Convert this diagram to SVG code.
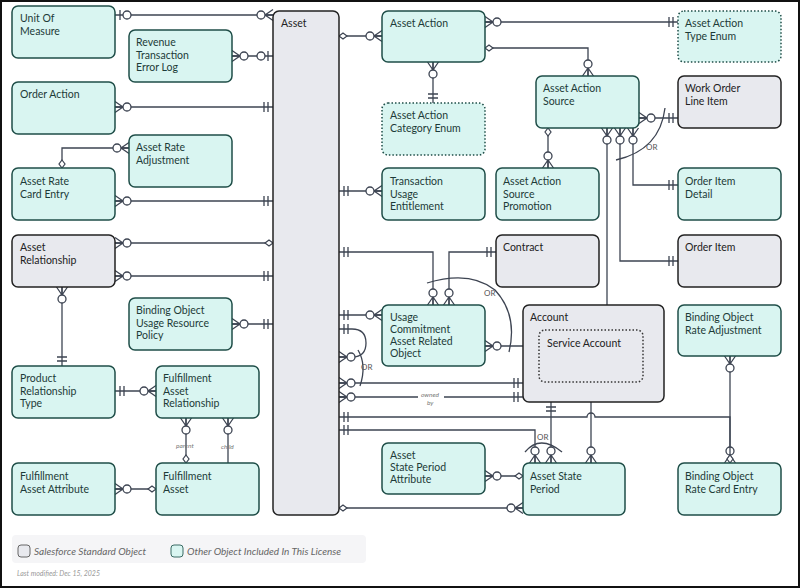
<svg xmlns="http://www.w3.org/2000/svg" width="800" height="588" viewBox="0 0 800 588">
<style>
.t{fill:#d9f5f1;stroke:#1f4e48;stroke-width:1.5}
.g{fill:#e8e9ee;stroke:#222;stroke-width:1.5}
.d{fill:#d9f5f1;stroke:#1f4e48;stroke-width:1.5;stroke-dasharray:1.5 2}
.ds{fill:#e8e9ee;stroke:#333;stroke-width:1.5;stroke-dasharray:1.5 2}
text{font-family:Lato,"Liberation Sans",sans-serif;font-size:10.5px;fill:#1d3b38}
.gt{fill:#222}
.c path{fill:none;stroke:#3d4452;stroke-width:1.3}
.sm{font-size:6.5px;fill:#777;font-style:italic}
.or{font-size:8px;fill:#555}
</style>
<defs>
<marker id="m0" viewBox="-20 -8 22 16" refX="0" refY="0" markerWidth="22" markerHeight="16" markerUnits="userSpaceOnUse" orient="auto-start-reverse"><path d="M-8,0L0,-5.5M-8,0L0,5.5M-8,0L0,0" fill="none" stroke="#3d4452" stroke-width="1.3"/><circle cx="-12" cy="0" r="4" fill="#fff" stroke="#3d4452" stroke-width="1.3"/></marker>
<marker id="m1" viewBox="-20 -8 22 16" refX="0" refY="0" markerWidth="22" markerHeight="16" markerUnits="userSpaceOnUse" orient="auto-start-reverse"><path d="M-5,-5V5M-9,-5V5" fill="none" stroke="#3d4452" stroke-width="1.3"/></marker>
<marker id="mz" viewBox="-20 -8 22 16" refX="0" refY="0" markerWidth="22" markerHeight="16" markerUnits="userSpaceOnUse" orient="auto-start-reverse"><path d="M-5,-5V5" fill="none" stroke="#3d4452" stroke-width="1.3"/><circle cx="-12" cy="0" r="4" fill="#fff" stroke="#3d4452" stroke-width="1.3"/></marker>
<marker id="md" viewBox="-20 -8 22 16" refX="0" refY="0" markerWidth="22" markerHeight="16" markerUnits="userSpaceOnUse" orient="auto-start-reverse"><polygon points="-8,0 -4,-3 0,0 -4,3" fill="#fff" stroke="#3d4452" stroke-width="1.2"/></marker>
</defs>
<rect x="1" y="1" width="798" height="586" fill="#fff" stroke="#111" stroke-width="2"/>

<g class="c" id="connectors">
<path d="M115,15H273" marker-start="url(#mz)" marker-end="url(#m0)"/>
<path d="M232,56H273" marker-start="url(#m0)" marker-end="url(#mz)"/>
<path d="M115,107H273" marker-start="url(#m0)" marker-end="url(#m1)"/>
<path d="M129,148H62V168" marker-start="url(#m0)" marker-end="url(#md)"/>
<path d="M115,201H273" marker-start="url(#m0)" marker-end="url(#m1)"/>
<path d="M115,243H273" marker-start="url(#m0)" marker-end="url(#md)"/>
<path d="M115,276H273" marker-start="url(#m0)" marker-end="url(#m1)"/>
<path d="M62,287V366" marker-start="url(#m0)" marker-end="url(#m1)"/>
<path d="M232,324H273" marker-start="url(#m0)" marker-end="url(#m1)"/>
<path d="M115,391H156" marker-start="url(#m1)" marker-end="url(#m0)"/>
<path d="M186,418V463" marker-start="url(#m0)" marker-end="url(#md)"/>
<path d="M228,418V463" marker-start="url(#m0)"/>
<path d="M115,489H156" marker-start="url(#m0)" marker-end="url(#md)"/>
<path d="M339,36H382" marker-start="url(#md)" marker-end="url(#m0)"/>
<path d="M485,22H678" marker-start="url(#m0)" marker-end="url(#m1)"/>
<path d="M433,62V103" marker-start="url(#m0)" marker-end="url(#m1)"/>
<path d="M485,48H588V76" marker-start="url(#md)" marker-end="url(#m0)"/>
<path d="M339,191H382" marker-start="url(#m1)" marker-end="url(#m0)"/>
<path d="M339,252H433V305" marker-start="url(#m1)" marker-end="url(#m0)"/>
<path d="M496,252H449V305" marker-start="url(#m1)" marker-end="url(#m0)"/>
<path d="M339,315H382" marker-start="url(#m1)" marker-end="url(#m0)"/>
<path d="M485,346H539" marker-start="url(#m0)" marker-end="url(#m1)"/>
<path d="M339,329H352Q366,329 366,343Q366,357 352,357H339" marker-start="url(#m1)" marker-end="url(#m0)"/>
<path d="M339,383H523" marker-start="url(#m0)" marker-end="url(#m1)"/>
<path d="M339,397H418M444,397H523" marker-end="url(#m1)"/>
<path d="M339,397H345" marker-start="url(#m0)"/>
<path d="M339,417H587A4,4 0 0 1 595,417H730V463" marker-start="url(#m1)" marker-end="url(#m0)"/>
<path d="M339,430H535V463" marker-start="url(#m1)" marker-end="url(#m0)"/>
<path d="M551,402V463" marker-start="url(#m1)" marker-end="url(#m0)"/>
<path d="M591,382V463" marker-start="url(#m1)" marker-end="url(#m0)"/>
<path d="M485,476H523" marker-start="url(#m0)" marker-end="url(#md)"/>
<path d="M339,508H523" marker-start="url(#md)" marker-end="url(#m0)"/>
<path d="M730,356V463" marker-start="url(#m0)" marker-end="url(#md)"/>
<path d="M548,128V168" marker-start="url(#md)" marker-end="url(#m0)"/>
<path d="M639,118H678" marker-start="url(#m0)" marker-end="url(#m1)"/>
<path d="M633,128V185H678" marker-start="url(#m0)" marker-end="url(#m1)"/>
<path d="M620,128V261H678" marker-start="url(#m0)" marker-end="url(#m1)"/>
<path d="M607,128V330" marker-start="url(#m0)" marker-end="url(#m1)"/>
<path d="M427,283Q470,270 495,290Q518,315 509,352"/>
<path d="M358,350Q367,365 360,386"/>
<path d="M616,160Q660,150 665,108"/>
<path d="M525,452Q540,434 562,452"/>
</g>
<text class="or" x="484" y="296">OR</text>
<text class="or" x="361" y="370">OR</text>
<text class="or" x="646" y="150">OR</text>
<text class="or" x="537" y="440">OR</text>
<text class="sm" x="421" y="397">owned</text>
<text class="sm" x="427" y="405">by</text>
<text class="sm" x="176" y="448">parent</text>
<text class="sm" x="221" y="449">child</text>

<g id="uom"><rect class="t" x="12" y="6" width="103" height="52" rx="6"/><text x="20" y="22">Unit Of</text><text x="20" y="34.5">Measure</text></g>
<g id="rtel"><rect class="t" x="129" y="30" width="103" height="52" rx="6"/><text x="136" y="46">Revenue</text><text x="136" y="58.5">Transaction</text><text x="136" y="71">Error Log</text></g>
<g id="oa"><rect class="t" x="12" y="82" width="103" height="52" rx="6"/><text x="20" y="98">Order Action</text></g>
<g id="ara"><rect class="t" x="129" y="135" width="103" height="52" rx="6"/><text x="136" y="151">Asset Rate</text><text x="136" y="163.5">Adjustment</text></g>
<g id="arce"><rect class="t" x="12" y="168" width="103" height="52" rx="6"/><text x="20" y="185">Asset Rate</text><text x="20" y="197.5">Card Entry</text></g>
<g id="ar"><rect class="g" x="12" y="235" width="103" height="52" rx="6"/><text class="gt" x="20" y="251">Asset</text><text class="gt" x="20" y="263.5">Relationship</text></g>
<g id="bourp"><rect class="t" x="129" y="298" width="103" height="52" rx="6"/><text x="136" y="314">Binding Object</text><text x="136" y="326.5">Usage Resource</text><text x="136" y="339">Policy</text></g>
<g id="prt"><rect class="t" x="12" y="366" width="103" height="52" rx="6"/><text x="20" y="382">Product</text><text x="20" y="394.5">Relationship</text><text x="20" y="407">Type</text></g>
<g id="far"><rect class="t" x="156" y="366" width="103" height="52" rx="6"/><text x="163" y="382">Fulfillment</text><text x="163" y="394.5">Asset</text><text x="163" y="407">Relationship</text></g>
<g id="faa"><rect class="t" x="12" y="463" width="103" height="52" rx="6"/><text x="20" y="480">Fulfillment</text><text x="20" y="492.5">Asset Attribute</text></g>
<g id="fa"><rect class="t" x="156" y="463" width="103" height="52" rx="6"/><text x="163" y="480">Fulfillment</text><text x="163" y="492.5">Asset</text></g>
<g id="asset"><rect class="g" x="273" y="11" width="66" height="504" rx="6"/><text class="gt" x="281" y="27">Asset</text></g>
<g id="aa"><rect class="t" x="382" y="11" width="103" height="51" rx="6"/><text x="390" y="27">Asset Action</text></g>
<g id="aate"><rect class="d" x="678" y="11" width="103" height="51" rx="6"/><text x="685" y="27">Asset Action</text><text x="685" y="39.5">Type Enum</text></g>
<g id="aace"><rect class="d" x="382" y="103" width="103" height="52" rx="6"/><text x="390" y="119">Asset Action</text><text x="390" y="131.5">Category Enum</text></g>
<g id="aas"><rect class="t" x="536" y="76" width="103" height="52" rx="6"/><text x="543" y="92">Asset Action</text><text x="543" y="104.5">Source</text></g>
<g id="woli"><rect class="g" x="678" y="76" width="103" height="52" rx="6"/><text class="gt" x="685" y="92">Work Order</text><text class="gt" x="685" y="104.5">Line Item</text></g>
<g id="tue"><rect class="t" x="382" y="168" width="103" height="52" rx="6"/><text x="390" y="185">Transaction</text><text x="390" y="197.5">Usage</text><text x="390" y="210">Entitlement</text></g>
<g id="aasp"><rect class="t" x="496" y="168" width="103" height="52" rx="6"/><text x="503" y="185">Asset Action</text><text x="503" y="197.5">Source</text><text x="503" y="210">Promotion</text></g>
<g id="oid"><rect class="t" x="678" y="168" width="103" height="52" rx="6"/><text x="685" y="185">Order Item</text><text x="685" y="197.5">Detail</text></g>
<g id="contract"><rect class="g" x="496" y="235" width="103" height="52" rx="6"/><text class="gt" x="503" y="251">Contract</text></g>
<g id="oi"><rect class="g" x="678" y="235" width="103" height="52" rx="6"/><text class="gt" x="685" y="251">Order Item</text></g>
<g id="ucaro"><rect class="t" x="382" y="305" width="103" height="61" rx="6"/><text x="390" y="321">Usage</text><text x="390" y="333">Commitment</text><text x="390" y="345">Asset Related</text><text x="390" y="357">Object</text></g>
<g id="account"><rect class="g" x="523" y="305" width="141" height="97" rx="6"/><text class="gt" x="530" y="321">Account</text>
<rect class="ds" x="539" y="330" width="104" height="52" rx="6"/><text class="gt" x="547" y="347">Service Account</text></g>
<g id="bora"><rect class="t" x="678" y="305" width="103" height="51" rx="6"/><text x="685" y="321">Binding Object</text><text x="685" y="333.5">Rate Adjustment</text></g>
<g id="aspa"><rect class="t" x="382" y="443" width="103" height="51" rx="6"/><text x="390" y="459">Asset</text><text x="390" y="471">State Period</text><text x="390" y="483">Attribute</text></g>
<g id="asp"><rect class="t" x="523" y="463" width="102" height="52" rx="6"/><text x="530" y="480">Asset State</text><text x="530" y="492.5">Period</text></g>
<g id="borce"><rect class="t" x="678" y="463" width="103" height="52" rx="6"/><text x="685" y="480">Binding Object</text><text x="685" y="492.5">Rate Card Entry</text></g>

<g id="legend">
<rect x="12" y="535" width="354" height="28" rx="4" fill="#f5f5f7"/>
<rect x="18" y="545" width="12" height="12" rx="3" fill="#e8e9ee" stroke="#666"/>
<text x="34" y="555" style="font-style:italic;font-size:10px;fill:#666">Salesforce Standard Object</text>
<rect x="171" y="545" width="12" height="12" rx="3" fill="#d9f5f1" stroke="#3a6b64"/>
<text x="187" y="555" style="font-style:italic;font-size:10px;fill:#666">Other Object Included In This License</text>
<text x="17" y="576" style="font-style:italic;font-size:7px;fill:#999">Last modified: Dec 15, 2025</text>
</g>
</svg>
